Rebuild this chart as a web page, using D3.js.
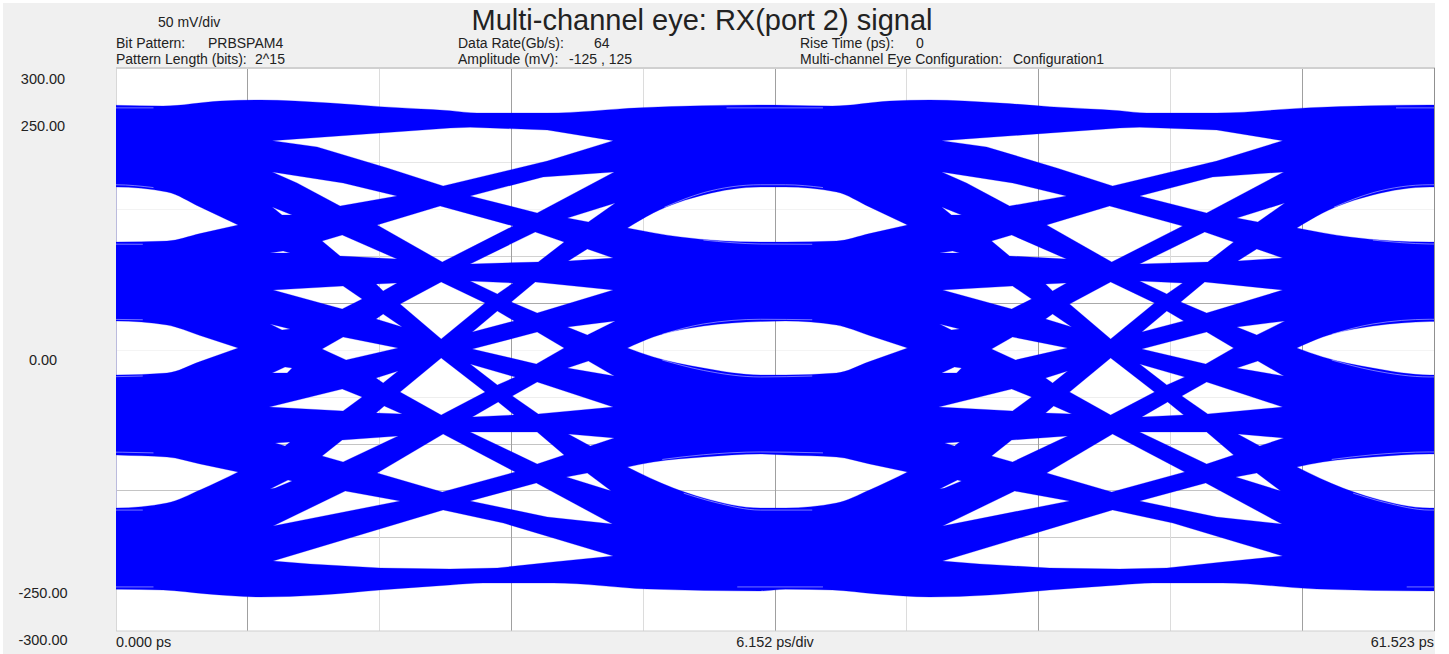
<!DOCTYPE html>
<html>
<head>
<meta charset="utf-8">
<script src="https://cdn.jsdelivr.net/npm/d3@7"></script>
<style>
  html, body { margin: 0; padding: 0; background: #fff; }
  text { font-family: "Liberation Sans", Arial, sans-serif; fill: #222; }
</style>
</head>
<body>
<div id="chart"></div>
<script>
// All eye data below is [time ps, level mV]
const uiPs = 31.25;                      // the eye repeats every unit interval
const uiOffsets = [-uiPs, 0, uiPs];
const yTickLabels = [300, 250, 0, -250, -300];
const xDivisions = d3.range(0, 11).map(i => i * 6.1523);
const yDivisions = d3.range(-300, 301, 50);

// Outer envelope of the traces over one unit interval
const envelopeTop = [[0,260.8],[2.2,260],[4.86,265.3],[6.73,266.4],[10,263.2],[12.33,259.3],[15.6,255],[16.86,252.5],[20.13,252.5],[24.47,258.2],[30.08,261.1]];
const envelopeBottom = [[0,-255.5],[2.2,-256.3],[4.25,-260.5],[6.73,-263.7],[9.53,-261.6],[12.33,-256.3],[15.6,-250.9],[17.14,-248.8],[20.41,-248.8],[24.8,-255.2],[30.08,-257.3]];

// The three big eyes at the sampling point, upper and lower edge from tip to tip
const upperEyeTop = [[23.87,129.9],[25.08,145.9],[27.42,165.1],[30.08,173.6],[31.25,173.6],[33.63,168.3],[35.17,152.3],[36.95,133.1]];
const upperEyeBottom = [[23.87,129.9],[26.34,120.3],[30.08,114.9],[31.25,114.9],[33.63,116],[35.17,123.9],[36.95,133.1]];
const middleEyeTop = [[23.87,1.9],[25.08,13.6],[27.42,25.3],[30.08,30.1],[31.25,30.7],[33.63,26.4],[35.17,15.2],[36.95,1.9]];
const middleEyeBottom = [[23.87,1.9],[25.08,-7.7],[27.42,-19.5],[30.08,-26.9],[31.25,-26.9],[33.63,-24.8],[35.17,-12.6],[36.95,1.9]];
const lowerEyeTop = [[23.87,-125.1],[25.08,-119.7],[27.42,-114.4],[30.08,-111.2],[31.25,-112.3],[33.63,-114.4],[35.17,-121.8],[36.95,-130.4]];
const lowerEyeBottom = [[23.87,-125.1],[26.02,-147.5],[27.42,-158.1],[30.08,-168.8],[31.25,-168.8],[33.63,-163.5],[35.17,-149.6],[36.95,-130.4]];

// Thin outlier gaps running along the eye edges and the envelope
const traceSlits = [
  [[25.6,152],[27.42,167.5],[30.08,176],[31.25,176],[33,173]],
  [[27.42,117],[30.08,112.8],[32.5,112.5]],
  [[25.5,16.5],[27.42,27.5],[30.08,32.5],[32.5,32]],
  [[25.5,-11],[27.42,-22],[30.08,-29],[32.5,-28]],
  [[25.5,-117],[27.42,-112],[30.08,-109],[33,-110]],
  [[26.5,-153],[28,-163],[30.08,-171],[32.5,-171]],
  [[28.5,258],[33,258]],
  [[29,-253],[33,-253]]
];

// Gaps left between the transition bands
const transitionGaps = [
  [[7.29,223],[15.6,236.5],[16.53,237.3],[20.13,234.4],[23.21,223],[20.13,201.3],[15.27,174.7],[12.66,193.9],[9.39,216.3]],
  [[7.29,189.6],[10.6,177.9],[13.12,164],[10.46,153.3],[8.45,177.9]],
  [[16.53,164],[19.94,184.3],[23.26,189.6],[19.66,145.9]],
  [[7.29,152.3],[8.22,143.7],[7.75,143.7]],
  [[21.07,140.5],[23.31,156.5],[22.05,136.3]],
  [[12.19,133.1],[15.13,153.3],[18.54,132],[15.23,93.6]],
  [[9.62,116],[10.56,122.4],[13.12,96.8],[10.46,100]],
  [[16.53,91.5],[19.57,125.6],[20.92,114.9],[19.71,93.6]],
  [[21.11,94.7],[22,107.5],[23.21,97.9]],
  [[7.19,103.2],[7.8,105.3],[8.13,103.2]],
  [[7.33,63.7],[10.6,68],[11.49,54.1],[10.56,43.5]],
  [[12.14,70.1],[13.12,71.2],[12.47,62.7]],
  [[13.26,48.8],[15.18,72.3],[17.23,49.9],[15.18,11.5]],
  [[16.53,73.3],[18.54,71.2],[17.8,59.5]],
  [[18.45,50.9],[19.57,72.3],[23.21,63.7],[19.66,39.2]],
  [[7.19,27.5],[8.13,22.1],[7.75,21.1]],
  [[12.14,32.8],[12.47,38.1],[13.36,24.3]],
  [[16.63,18.9],[17.8,41.3],[18.59,30.7]],
  [[21.07,24.3],[23.31,30.7],[22,15.7]],
  [[9.62,0.8],[10.6,13.6],[13.17,1.9],[10.74,-10.9]],
  [[16.63,0.8],[19.66,18.9],[20.92,1.9],[19.62,-15.2]],
  [[7.29,-24.8],[7.89,-18.4],[8.22,-19.5],[7.99,-24.8]],
  [[12.14,-30.1],[13.17,-22.7],[12.47,-35.5]],
  [[16.53,-15.2],[18.64,-29.1],[17.8,-37.6]],
  [[21.07,-19.5],[22.05,-12],[23.26,-28]],
  [[13.26,-45.1],[15.18,-8.8],[17.23,-45.1],[15.18,-69.6]],
  [[7.15,-61.1],[10.56,-41.9],[11.49,-50.4],[10.6,-65.3]],
  [[18.5,-49.3],[19.66,-34.4],[23.21,-61.1],[19.71,-68.5]],
  [[12.14,-67.5],[12.52,-60],[13.36,-68.5]],
  [[16.63,-71.7],[17.84,-55.7],[18.59,-69.6]],
  [[7.43,-99.5],[8.13,-98.4],[7.89,-102.7]],
  [[9.62,-113.3],[10.56,-96.3],[13.17,-92],[10.6,-119.7]],
  [[12.19,-131.5],[15.27,-89.9],[18.64,-130.4],[15.23,-151.7]],
  [[16.53,-87.7],[19.66,-87.7],[20.92,-112.3],[19.66,-121.9]],
  [[21.11,-89.9],[23.26,-94.1],[22.14,-102.7]],
  [[21.02,-135.7],[22,-131.5],[23.12,-150.7]],
  [[7.19,-148.5],[8.03,-139],[8.22,-140],[7.43,-147.5]],
  [[7.33,-188],[10.7,-150.7],[13.26,-161.3]],
  [[16.53,-161.3],[19.62,-142.1],[23.17,-185.9],[20.13,-178.4]],
  [[7.33,-225.3],[15.27,-170.9],[18.08,-184.8],[20.41,-200.8],[23.21,-220],[20.41,-226.4],[17.8,-232.8],[15.6,-233.9],[12.33,-232.8],[9.06,-228.5]]
];

const width = 1449, height = 654;
const plot = { left: 116, right: 1434, top: 68.5, bottom: 631 };

const x = d3.scaleLinear().domain([0, 61.523]).range([plot.left, plot.right]);
const y = d3.scaleLinear().domain([-300, 300]).range([plot.bottom, plot.top]);
// the level labels do not sit exactly on their gridlines in the original
const yLabel = d3.scaleLinear().domain([-300, 300]).range([645, 84]);

const ring = d3.line().x(d => x(d[0])).y(d => y(d[1]));
const arc = d3.line().x(d => x(d[0])).y(d => y(d[1])).curve(d3.curveMonotoneX);
const shift = (pts, dt) => pts.map(d => [d[0] + dt, d[1]]);
const closed = (upper, lower) => arc(upper) + arc(lower.slice().reverse()).replace(/^M/, "L") + "Z";

const svg = d3.select("#chart").append("svg")
  .attr("width", width)
  .attr("height", height)
  .style("display", "block");

svg.append("rect").attr("x", 3).attr("y", 3).attr("width", 1432).attr("height", 651).attr("fill", "#f0f0f0");
svg.append("rect")
  .attr("x", plot.left).attr("y", plot.top)
  .attr("width", plot.right - plot.left).attr("height", plot.bottom - plot.top)
  .attr("fill", "#fff");

svg.append("clipPath").attr("id", "plot-clip").append("rect")
  .attr("x", plot.left).attr("y", plot.top)
  .attr("width", plot.right - plot.left).attr("height", plot.bottom - plot.top);

// Grid, every second vertical is darker, the horizontals vary in the original
const hGridColor = { "200": "#e6e6e6", "150": "#f3f3f3", "100": "#d2d2d2", "50": "#aaaaaa", "0": "#f4f4f4", "-50": "#eeeeee", "-100": "#c4c4c4", "-150": "#c4c4c4", "-200": "#cccccc" };

svg.append("g").selectAll("line")
  .data(yDivisions.filter(d => hGridColor[d]))
  .join("line")
    .attr("x1", plot.left).attr("x2", plot.right)
    .attr("y1", d => Math.round(y(d)) + 0.5).attr("y2", d => Math.round(y(d)) + 0.5)
    .attr("stroke", d => hGridColor[d]);

svg.append("g").selectAll("line")
  .data(xDivisions)
  .join("line")
    .attr("x1", d => Math.floor(x(d)) + 0.5).attr("x2", d => Math.floor(x(d)) + 0.5)
    .attr("y1", plot.top).attr("y2", plot.bottom)
    .attr("stroke", (d, i) => i === 0 ? "#d8d8d8" : (i % 2 ? "#a0a0a0" : "#dcdcdc"));

svg.append("line").attr("x1", plot.left).attr("x2", plot.right + 1).attr("y1", 68).attr("y2", 68).attr("stroke", "#d0d0d0").attr("stroke-width", 2);
svg.append("line").attr("x1", plot.left).attr("x2", plot.right + 1).attr("y1", 631).attr("y2", 631).attr("stroke", "#cfcfcf");
svg.append("line").attr("x1", plot.right + 0.5).attr("x2", plot.right + 0.5).attr("y1", 68).attr("y2", 631).attr("stroke", "#909090");

// Traces: envelope with the eyes cut out of it (even-odd fill)
const overTwoUi = pts => [0, uiPs].flatMap(dt => shift(pts, dt)).concat(shift([pts[0]], 2 * uiPs));
const envelope = closed(overTwoUi(envelopeTop), overTwoUi(envelopeBottom));
const eyes = uiOffsets.flatMap(dt => [
  closed(shift(upperEyeTop, dt), shift(upperEyeBottom, dt)),
  closed(shift(middleEyeTop, dt), shift(middleEyeBottom, dt)),
  closed(shift(lowerEyeTop, dt), shift(lowerEyeBottom, dt))
]);
const gaps = [0, uiPs].flatMap(dt => transitionGaps.map(e => ring(shift(e, dt)) + "Z"));

const traces = svg.append("g").attr("clip-path", "url(#plot-clip)");

traces.append("path")
  .attr("d", [envelope].concat(eyes, gaps).join(" "))
  .attr("fill", "#0000ff")
  .attr("fill-rule", "evenodd")
  .attr("stroke", "#0000ff")
  .attr("stroke-opacity", 0.45)
  .attr("stroke-width", 0.6);

traces.append("g").selectAll("path")
  .data(uiOffsets.flatMap(dt => traceSlits.map(s => shift(s, dt))))
  .join("path")
    .attr("d", arc)
    .attr("fill", "none")
    .attr("stroke", "#fff")
    .attr("stroke-opacity", 0.65)
    .attr("stroke-width", 0.7);

svg.append("g").selectAll("text")
  .data(yTickLabels)
  .join("text")
    .attr("x", 43)
    .attr("y", d => yLabel(d))
    .attr("text-anchor", "middle")
    .attr("font-size", 14.5)
    .text(d => d3.format(".2f")(d).replace("\u2212", "-"));

svg.append("text").attr("x", 702).attr("y", 30).attr("text-anchor", "middle").attr("font-size", 29)
  .text("Multi-channel eye: RX(port 2) signal");

const infoLabels = [
  ["50 mV/div", 158, 27],
  ["Bit Pattern:", 116, 47.5], ["PRBSPAM4", 208, 47.5],
  ["Pattern Length (bits):", 116, 64], ["2^15", 255, 64],
  ["Data Rate(Gb/s):", 458, 47.5], ["64", 594, 47.5],
  ["Amplitude (mV):", 458, 64], ["-125 , 125", 569, 64],
  ["Rise Time (ps):", 800, 47.5], ["0", 916, 47.5],
  ["Multi-channel Eye Configuration:", 800, 64], ["Configuration1", 1013, 64]
];
svg.append("g").selectAll("text")
  .data(infoLabels)
  .join("text")
    .attr("x", d => d[1])
    .attr("y", d => d[2])
    .attr("font-size", 14)
    .text(d => d[0]);

const timeLabels = [["0.000 ps", 116, "start"], ["6.152 ps/div", 775, "middle"], ["61.523 ps", 1434, "end"]];
svg.append("g").selectAll("text")
  .data(timeLabels)
  .join("text")
    .attr("x", d => d[1])
    .attr("y", 647)
    .attr("text-anchor", d => d[2])
    .attr("font-size", 14.4)
    .text(d => d[0]);
</script>
</body>
</html>
